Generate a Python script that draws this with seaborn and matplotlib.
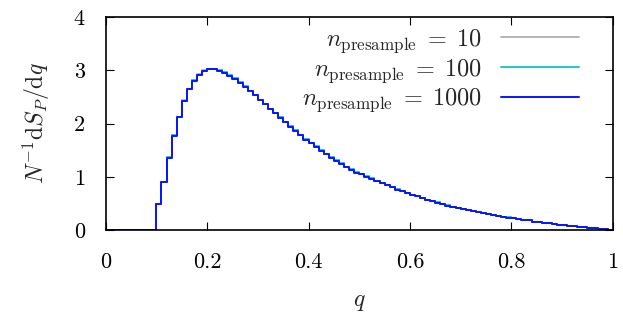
import numpy as np
import pandas as pd
import matplotlib
matplotlib.use("Agg")
import matplotlib.pyplot as plt
import seaborn as sns

# bin left edges (width 0.01) from 0.00 to 0.99
bin_width = 0.01
q_edges = [round(i * bin_width, 2) for i in range(100)]

# density per bin (bins 0.00-0.09 are zero)
vals_1000 = [0.0] * 10 + [
    0.49, 0.90, 1.36, 1.77, 2.12, 2.43, 2.64, 2.80, 2.92, 2.99,
    3.02, 3.02, 2.99, 2.95, 2.90, 2.84, 2.77, 2.69, 2.61, 2.53,
    2.44, 2.36, 2.27, 2.19, 2.11, 2.02, 1.94, 1.86, 1.78, 1.70,
    1.63, 1.56, 1.49, 1.42, 1.36, 1.30, 1.24, 1.18, 1.13, 1.08,
    1.05, 1.00, 0.96, 0.92, 0.88, 0.84, 0.80, 0.76, 0.73, 0.69,
    0.66, 0.63, 0.60, 0.57, 0.54, 0.51, 0.49, 0.46, 0.44, 0.42,
    0.40, 0.38, 0.36, 0.34, 0.32, 0.30, 0.28, 0.27, 0.25, 0.23,
    0.22, 0.20, 0.19, 0.18, 0.16, 0.15, 0.14, 0.13, 0.11, 0.10,
    0.09, 0.08, 0.07, 0.06, 0.05, 0.04, 0.03, 0.02, 0.012, 0.004,
]
vals_100 = [0.0] * 10 + [
    0.49, 0.91, 1.37, 1.78, 2.13, 2.43, 2.65, 2.81, 2.92, 2.99,
    3.02, 3.03, 3.00, 2.96, 2.91, 2.85, 2.78, 2.70, 2.62, 2.54,
    2.45, 2.37, 2.28, 2.20, 2.12, 2.03, 1.95, 1.87, 1.79, 1.71,
    1.64, 1.57, 1.50, 1.43, 1.37, 1.31, 1.25, 1.19, 1.14, 1.09,
    1.05, 1.01, 0.97, 0.92, 0.88, 0.84, 0.81, 0.77, 0.73, 0.70,
    0.66, 0.63, 0.60, 0.57, 0.55, 0.52, 0.49, 0.47, 0.44, 0.42,
    0.40, 0.38, 0.36, 0.34, 0.32, 0.30, 0.29, 0.27, 0.25, 0.24,
    0.22, 0.21, 0.19, 0.18, 0.16, 0.15, 0.14, 0.13, 0.11, 0.10,
    0.09, 0.08, 0.07, 0.06, 0.05, 0.04, 0.03, 0.02, 0.012, 0.004,
]
vals_10 = [0.0] * 10 + [
    0.49, 0.91, 1.37, 1.78, 2.13, 2.44, 2.65, 2.81, 2.93, 3.00,
    3.03, 3.03, 3.00, 2.96, 2.91, 2.85, 2.78, 2.70, 2.62, 2.54,
    2.45, 2.37, 2.28, 2.20, 2.12, 2.03, 1.95, 1.87, 1.79, 1.71,
    1.64, 1.57, 1.50, 1.43, 1.37, 1.31, 1.25, 1.19, 1.14, 1.09,
    1.05, 1.01, 0.97, 0.92, 0.88, 0.84, 0.81, 0.77, 0.73, 0.70,
    0.66, 0.63, 0.60, 0.57, 0.55, 0.52, 0.49, 0.47, 0.44, 0.42,
    0.40, 0.38, 0.36, 0.34, 0.32, 0.30, 0.29, 0.27, 0.25, 0.24,
    0.22, 0.21, 0.19, 0.18, 0.16, 0.15, 0.14, 0.13, 0.11, 0.10,
    0.09, 0.08, 0.07, 0.06, 0.05, 0.04, 0.03, 0.02, 0.012, 0.004,
]

series_labels = [r"$n_{\mathrm{presample}}\;=\;10$",
                 r"$n_{\mathrm{presample}}\;=\;100$",
                 r"$n_{\mathrm{presample}}\;=\;1000$"]
series_colors = ["#b4b4b4", "#1ec8c8", "#0a14ff"]
x_ticks = [0, 0.2, 0.4, 0.6, 0.8, 1]
x_ticklabels = ["0", "0.2", "0.4", "0.6", "0.8", "1"]
y_ticks = [0, 1, 2, 3, 4]
y_ticklabels = ["0", "1", "2", "3", "4"]

rows = []
for lab, vals in zip(series_labels, [vals_10, vals_100, vals_1000]):
    xs = q_edges + [1.0]
    ys = vals + [vals[-1]]
    for x, y in zip(xs, ys):
        rows.append({"q": x, "v": y, "series": lab})
df = pd.DataFrame(rows)

sns.set_style("ticks")
plt.rcParams["font.family"] = ["cmr10"]
plt.rcParams["mathtext.fontset"] = "cm"
plt.rcParams["axes.formatter.use_mathtext"] = True

fig = plt.figure(figsize=(6.23, 3.13), dpi=100)
ax = fig.add_axes([0.1697, 0.265, 0.9835 - 0.1697, 0.9457 - 0.265])

sns.lineplot(data=df, x="q", y="v", hue="series", palette=series_colors,
             hue_order=series_labels, estimator=None, sort=False,
             drawstyle="steps-post", linewidth=1.4, ax=ax)

ax.set_xlim(0, 1)
ax.set_ylim(0, 4)
ax.set_xticks(x_ticks)
ax.set_xticklabels(x_ticklabels)
ax.set_yticks(y_ticks)
ax.set_yticklabels(y_ticklabels)
ax.tick_params(direction="in", length=5.5, width=0.8, top=True, right=True,
               labelsize=16, colors="black")
ax.tick_params(axis="x", pad=16)
ax.tick_params(axis="y", pad=15)
for s in ax.spines.values():
    s.set_visible(True)
    s.set_linewidth(1.2)
    s.set_color("black")

ax.set_xlabel(r"$q$", fontsize=17, labelpad=14)
ax.set_ylabel(r"$N^{-1}\mathrm{d}S_P/\mathrm{d}q$", fontsize=17, labelpad=16)

leg = ax.legend(loc="upper right", bbox_to_anchor=(0.952, 0.997), frameon=False,
                markerfirst=False, fontsize=17.5, handlelength=3.2,
                handletextpad=0.8, labelspacing=0.08, borderaxespad=0.0)
for h in leg.get_lines():
    h.set_linewidth(1.4)

fig.savefig("out.png", dpi=100)
